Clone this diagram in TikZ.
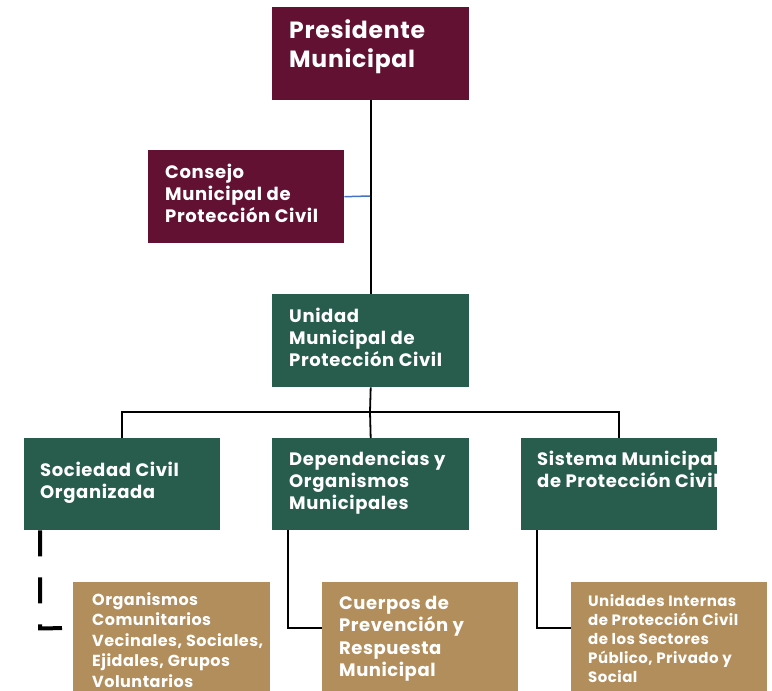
\documentclass[tikz,border=0pt]{standalone}
\usepackage{fontspec}
\setmainfont{Poppins}[LetterSpace=3]
\definecolor{guinda}{HTML}{621132}
\definecolor{verde}{HTML}{285C4D}
\definecolor{oro}{HTML}{B38E5D}
\definecolor{azul}{HTML}{4472C4}
\tikzset{
  box/.style={fill=#1, draw=none, anchor=north west, inner sep=0pt},
  txt/.style={text=white, anchor=base west, align=left, inner sep=0pt, font=\bfseries},
  mid/.style={txt, font=\bfseries\fontsize{18}{22}\selectfont\addfontfeature{LetterSpace=3.5}},
  conn/.style={draw=black, line width=1.8pt},
}
\newcommand{\bx}[6]{% name, color, x1, y1, x2, y2
  \node[box=#2, minimum width=#5pt-#3pt, minimum height=#6pt-#4pt] (#1) at (#3,#4) {};}
\begin{document}
\begin{tikzpicture}[x=1pt,y=-1pt]
\useasboundingbox (0,0) rectangle (772,691);
\fill[white] (0,0) rectangle (772,691);
\bx{pres}{guinda}{272}{7}{469}{100}
\bx{cons}{guinda}{148}{150}{344}{243}
\bx{unid}{verde}{272}{294}{469}{387}
\bx{soc}{verde}{24}{438}{220}{530}
\bx{dep}{verde}{272}{438}{469}{530}
\bx{sis}{verde}{521}{438}{717}{530}
\bx{org}{oro}{73}{582}{270}{700}
\bx{cue}{oro}{322}{582}{518}{700}
\bx{uin}{oro}{571}{582}{767}{700}

\node[txt, font=\bfseries\fontsize{23.5}{29}\selectfont] (tpres) at (289,67) {Presidente\\Municipal};
\node[mid] (tcons) at (165,222) {Consejo\\Municipal de\\Protección Civil};
\node[mid] (tunid) at (289,366) {Unidad\\Municipal de\\Protección Civil};
\node[mid] (tsoc) at (40,498) {Sociedad Civil\\Organizada};
\node[mid] (tdep) at (289,509) {Dependencias y\\Organismos\\Municipales};
\begin{scope}
\clip (521,438) rectangle (717,530);
\node[mid] (tsis) at (537,487) {Sistema Municipal\\de Protección Civil};
\end{scope}
\node[txt, font=\bfseries\fontsize{16}{20.5}\selectfont] (torg) at (92,687) {Organismos\\Comunitarios\\Vecinales, Sociales,\\Ejidales, Grupos\\Voluntarios};
\node[txt, font=\bfseries\fontsize{18}{22.5}\selectfont] (tcue) at (339,676.5) {Cuerpos de\\Prevención y\\Respuesta\\Municipal};
\node[txt, font=\bfseries\fontsize{15}{19}\selectfont] (tuin) at (588,682) {Unidades Internas\\de Protección Civil\\de los Sectores\\Público, Privado y\\Social};

\coordinate (jc) at (370,196);
\coordinate (bus) at (370,412);
\draw[conn] (pres.south) -- (unid.north);
\draw[draw=azul, line width=1.5pt] (cons.east) -- (jc);
\draw[conn] (unid.south) -- (bus);
\draw[conn] (soc.north) -- ++(0,-26) -| (sis.north);
\draw[conn] (bus) -- (dep.north);
\draw[line width=4pt, dash pattern=on 26pt off 21pt] ([xshift=16pt]soc.south west) -- ++(0,98) -- (org.west |- 0,628);
\draw[conn] ([xshift=16pt]dep.south west) |- (cue.west |- 0,628);
\draw[conn] ([xshift=16pt]sis.south west) |- (uin.west |- 0,628);
\end{tikzpicture}
\end{document}
